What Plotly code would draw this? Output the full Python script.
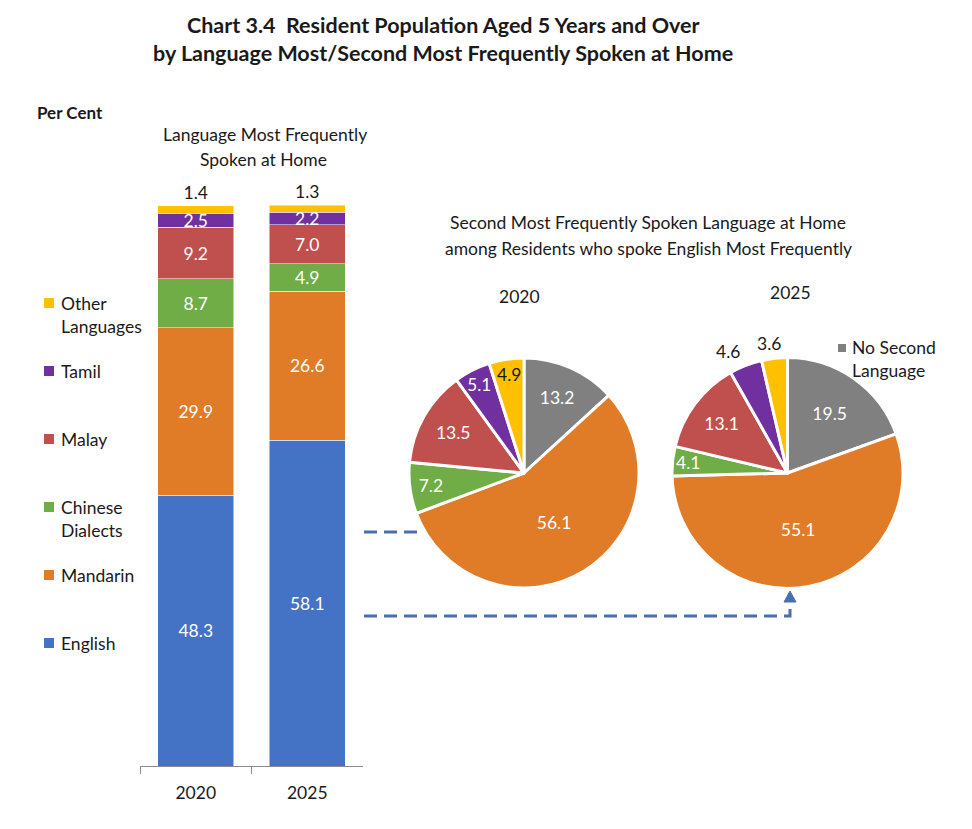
import math
import plotly.graph_objects as go

W, H = 972, 829

# ---------------- data ----------------
years = ["2020", "2025"]
languages = ["English", "Mandarin", "Chinese Dialects", "Malay", "Tamil", "Other Languages"]
bar_2020 = [48.3, 29.9, 8.7, 9.2, 2.5, 1.4]
bar_2025 = [58.1, 26.6, 4.9, 7.0, 2.2, 1.3]

pie_labels = ["No Second Language", "Mandarin", "Chinese Dialects", "Malay", "Tamil", "Other Languages"]
pie_2020 = [13.2, 56.1, 7.2, 13.5, 5.1, 4.9]
pie_2025 = [19.5, 55.1, 4.1, 13.1, 4.6, 3.6]
pie_2020_outside = [False, False, False, False, False, False]
pie_2025_outside = [False, False, False, False, True, True]

legend_lines = [
    ("Other Languages", ["Other", "Languages"]),
    ("Tamil", ["Tamil"]),
    ("Malay", ["Malay"]),
    ("Chinese Dialects", ["Chinese", "Dialects"]),
    ("Mandarin", ["Mandarin"]),
    ("English", ["English"]),
]

colors = {
    "English": "#4472C4",
    "Mandarin": "#E07B28",
    "Chinese Dialects": "#70AD47",
    "Malay": "#C0504D",
    "Tamil": "#7030A0",
    "Other Languages": "#FFC000",
    "No Second Language": "#808080",
}

FONT = "Lato, 'Open Sans', sans-serif"
TXT = "#1a1a1a"
DASH_C = "#4a6eb0"
FS = 17.5
SMALL = 5.0  # inside slices below this get their label placed manually (no shrinking)


def px(x):
    return x / W


def py(y):
    return 1 - y / H


fig = go.Figure()
ann = []


def add_text(x, y, text, size=FS, bold=False, anchor="center", color=TXT):
    ann.append(dict(
        x=px(x), y=py(y), xref="paper", yref="paper", text=f"<b>{text}</b>" if bold else text,
        showarrow=False, xanchor=anchor, yanchor="middle",
        font=dict(family=FONT, size=size, color=color),
    ))


# ---------------- stacked bars ----------------
ymax = max(sum(bar_2020), sum(bar_2025))
for i, lang in enumerate(languages):
    last = i == len(languages) - 1
    fig.add_trace(go.Bar(
        x=years,
        y=[bar_2020[i], bar_2025[i]],
        name=lang,
        marker=dict(color=colors[lang], line=dict(color="white", width=0.5)),
        text=[f"{bar_2020[i]:.1f}", f"{bar_2025[i]:.1f}"],
        textposition="outside" if last else "inside",
        insidetextanchor="middle",
        constraintext="none",
        textfont=dict(family=FONT, size=FS, color=TXT if last else "white"),
        width=0.68,
        cliponaxis=False,
        showlegend=False,
        hoverinfo="skip",
    ))

# ---------------- pies ----------------
pie_colors = [colors[l] for l in pie_labels]
inside_color = {l: ("white" if l != "Other Languages" else TXT) for l in pie_labels}


def add_pie(values, outside, center, r, dom_x, dom_y):
    txt = []
    total = sum(values)
    cum = 0.0
    for lab, v, out in zip(pie_labels, values, outside):
        mid = (cum + v / 2) / total
        cum += v
        th = 2 * math.pi * mid
        if out:
            txt.append("")
            add_text(center[0] + math.sin(th) * 163, center[1] - math.cos(th) * 130, f"{v:.1f}")
        elif v < SMALL:
            txt.append("")
            rr = r * 0.87
            add_text(center[0] + math.sin(th) * rr, center[1] - math.cos(th) * rr, f"{v:.1f}",
                     color=inside_color[lab])
        else:
            txt.append(f"{v:.1f}")
    fig.add_trace(go.Pie(
        values=values, labels=pie_labels, sort=False, direction="clockwise", rotation=0,
        marker=dict(colors=pie_colors, line=dict(color="white", width=3)),
        text=txt, texttemplate="%{text}",
        textposition="inside",
        insidetextorientation="horizontal",
        textfont=dict(family=FONT, size=FS, color=[inside_color[l] for l in pie_labels]),
        domain=dict(x=[px(dom_x[0]), px(dom_x[1])], y=[py(dom_y[1]), py(dom_y[0])]),
        showlegend=False, hoverinfo="skip",
    ))


add_pie(pie_2020, pie_2020_outside, (524, 473), 115, (409, 639), (358, 588))
add_pie(pie_2025, pie_2025_outside, (787.5, 473), 115.5, (672, 903), (357, 589))

# ---------------- text ----------------
add_text(443, 25, "Chart 3.4\u00a0\u00a0Resident Population Aged 5 Years and Over", size=21.5, bold=True)
add_text(443, 53, "by Language Most/Second Most Frequently Spoken at Home", size=21.5, bold=True)
add_text(35, 112, "Per Cent", size=17, bold=True, anchor="left")
add_text(265, 134, "Language Most Frequently")
add_text(263, 160, "Spoken at Home")
add_text(648, 222, "Second Most Frequently Spoken Language at Home")
add_text(648, 248, "among Residents who spoke English Most Frequently")
add_text(519, 296, "2020")
add_text(790, 292, "2025")

shapes = []
legend_y = [303, 371, 439, 507, 575, 643]
for (key, lines), y0 in zip(legend_lines, legend_y):
    shapes.append(dict(type="rect", xref="paper", yref="paper",
                       x0=px(44), x1=px(54), y0=py(y0 - 5), y1=py(y0 + 5),
                       fillcolor=colors[key], line=dict(width=0)))
    for j, line in enumerate(lines):
        add_text(59, y0 + 23 * j, line, anchor="left")

# pie legend (No Second Language)
shapes.append(dict(type="rect", xref="paper", yref="paper",
                   x0=px(838), x1=px(846), y0=py(352), y1=py(344),
                   fillcolor=colors["No Second Language"], line=dict(width=0)))
add_text(850, 347, "No Second", anchor="left")
add_text(850, 370, "Language", anchor="left")

# dashed connectors
shapes.append(dict(type="line", xref="paper", yref="paper",
                   x0=px(364), x1=px(421), y0=py(532), y1=py(532),
                   line=dict(color=DASH_C, width=3, dash="13px,7px")))
shapes.append(dict(type="path", xref="paper", yref="paper",
                   path=f"M {px(364)},{py(616)} L {px(790)},{py(616)} L {px(790)},{py(601)}",
                   line=dict(color=DASH_C, width=3, dash="13px,7px")))
shapes.append(dict(type="path", xref="paper", yref="paper",
                   path=f"M {px(784)},{py(602)} L {px(796)},{py(602)} L {px(790)},{py(591)} Z",
                   fillcolor=DASH_C, line=dict(color=DASH_C, width=1)))

fig.update_layout(
    width=W, height=H,
    margin=dict(l=0, r=0, t=0, b=0),
    paper_bgcolor="white", plot_bgcolor="white",
    barmode="stack",
    font=dict(family=FONT, size=FS, color=TXT),
    xaxis=dict(domain=[px(140), px(363)], type="category", range=[-0.5, 1.5],
               showline=True, linecolor="#8c8c8c", linewidth=1,
               ticks="outside", tickson="boundaries", ticklen=7, tickcolor="#8c8c8c",
               showgrid=False, zeroline=False, fixedrange=True,
               tickfont=dict(family=FONT, size=FS, color=TXT), ticklabelstandoff=11),
    yaxis=dict(domain=[py(766), py(205)], range=[0, ymax], visible=False, fixedrange=True),
    annotations=ann,
    shapes=shapes,
)

fig.write_html("out.html")
